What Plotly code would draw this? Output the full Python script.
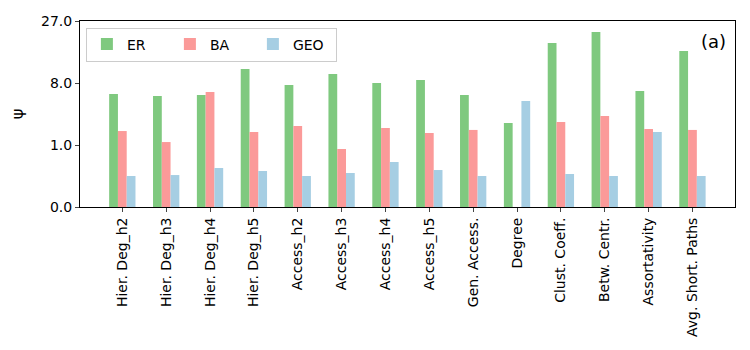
import numpy as np
import plotly.graph_objects as go

categories = ["Hier. Deg_h2", "Hier. Deg_h3", "Hier. Deg_h4", "Hier. Deg_h5",
              "Access_h2", "Access_h3", "Access_h4", "Access_h5",
              "Gen. Access.", "Degree", "Clust. Coeff.", "Betw. Centr.",
              "Assortativity", "Avg. Short. Paths"]

er = [6.05, 5.74, 5.89, 11.0, 7.62, 9.87, 8.0, 8.6, 5.89, 2.49, 18.5, 22.5, 6.55, 15.9]
ba = [1.84, 1.15, 6.38, 1.77, 2.23, 0.82, 2.07, 1.70, 1.92, 0.0, 2.58, 3.16, 1.99, 1.92]
geo = [0.125, 0.137, 0.249, 0.196, 0.125, 0.165, 0.382, 0.212, 0.125, 5.0, 0.151, 0.125, 1.77, 0.125]

y_ticks = [0.0, 1.0, 8.0, 27.0]

# cube-root scale for psi
def cbrt(v):
    return np.cbrt(np.asarray(v, dtype=float))

fig = go.Figure()
for name, vals, color in [("ER", er, "#7fc97f"), ("BA", ba, "#fb9a99"), ("GEO", geo, "#a6cee3")]:
    fig.add_bar(x=categories, y=cbrt(vals), name=name, marker=dict(color=color, line=dict(width=0)))

# page body has an 8px margin, so the figure is shrunk to fit
fig.update_layout(
    width=734, height=334,
    margin=dict(l=72, r=7, t=13, b=135),
    plot_bgcolor="white", paper_bgcolor="white",
    barmode="group", bargap=0.4, bargroupgap=0,
    font=dict(family="DejaVu Sans", size=14, color="black"),
    legend=dict(orientation="h", x=0.009, y=0.965, xanchor="left", yanchor="top",
                bgcolor="rgba(255,255,255,0.8)", bordercolor="#cccccc", borderwidth=1,
                font=dict(size=14), entrywidth=38, itemwidth=30),
    annotations=[dict(text="(a)", xref="paper", yref="paper", x=0.99, y=0.955,
                      xanchor="right", yanchor="top", showarrow=False, font=dict(size=18))],
)
fig.update_xaxes(range=[-0.965, 13.97], showline=True, linecolor="black", linewidth=1, mirror=True,
                 ticks="outside", ticklen=4, tickangle=-90, showgrid=False, automargin=False)
fig.update_yaxes(range=[0, 3], tickvals=cbrt(y_ticks), ticktext=[f"{t:.1f}" for t in y_ticks],
                 showline=True, linecolor="black", linewidth=1, mirror=True,
                 ticks="outside", ticklen=4, showgrid=False, zeroline=False, automargin=False,
                 title=dict(text="ψ", standoff=20, font=dict(size=16)))

fig.write_html("out.html")
